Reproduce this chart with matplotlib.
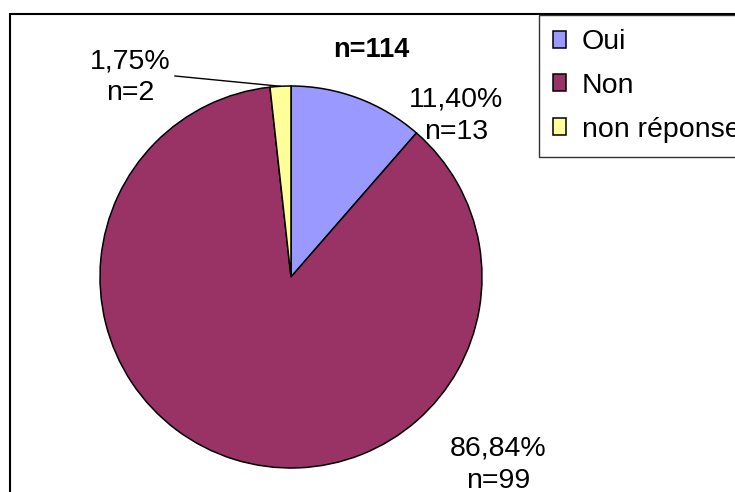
import matplotlib
matplotlib.use("Agg")
import matplotlib.pyplot as plt
import numpy as np
from matplotlib.patches import Rectangle

plt.rcParams["font.family"] = ["Liberation Sans", "DejaVu Sans"]

categories = ["Oui", "Non", "non réponse"]
counts = [13, 99, 2]
pct_labels = ["11,40%", "86,84%", "1,75%"]
colors = ["#9999FF", "#993366", "#FFFF99"]
total = sum(counts)

W, H = 735, 492
fig = plt.figure(figsize=(W / 100, H / 100), dpi=100)
ax = fig.add_axes([0, 0, 1, 1])

# outer chart frame (runs off the right and bottom edges)
fig.patches.append(Rectangle((10 / W, -0.2), 1.2, 1.2 - 14 / H,
                             transform=fig.transFigure, fill=False,
                             edgecolor="black", lw=1.5))

cx, cy, r = 291, 215, 191
wedges, _ = ax.pie(counts, colors=colors, startangle=90, counterclock=False,
                   center=(cx, cy), radius=r, frame=True,
                   wedgeprops=dict(edgecolor="black", linewidth=1.1))
ax.set_xlim(0, W)
ax.set_ylim(0, H)
ax.set_aspect("equal")
ax.axis("off")

# label block positions, in radius units from the pie centre
label_offsets = [(0.864, 0.843), (1.084, -0.984), (-0.843, 1.047)]
for w, pct, n, (ox, oy) in zip(wedges, pct_labels, counts, label_offsets):
    ax.text(cx + ox * r, cy + oy * r, f"{pct}\nn={n}", ha="center", va="center",
            fontsize=20.5, linespacing=1.3)

# leader line for the small slice
w = wedges[2]
mid = np.deg2rad((w.theta1 + w.theta2) / 2)
ax.plot([175, cx + r * np.cos(mid)], [H - 76, cy + r * np.sin(mid)],
        color="black", lw=1)

ax.text(371, H - 50, f"n={total}", ha="center", va="center",
        fontsize=19.5, fontweight="bold")

leg = fig.legend(wedges, categories, loc="upper left",
                 bbox_to_anchor=(539 / W, 1 - 15 / H), fontsize=20.5,
                 frameon=True, fancybox=False, handlelength=0.45,
                 handleheight=0.55, handletextpad=0.55, labelspacing=0.62,
                 borderpad=0.5, borderaxespad=0)
leg.get_frame().set_edgecolor("black")
leg.get_frame().set_linewidth(1)

fig.savefig("out.png", dpi=100)
